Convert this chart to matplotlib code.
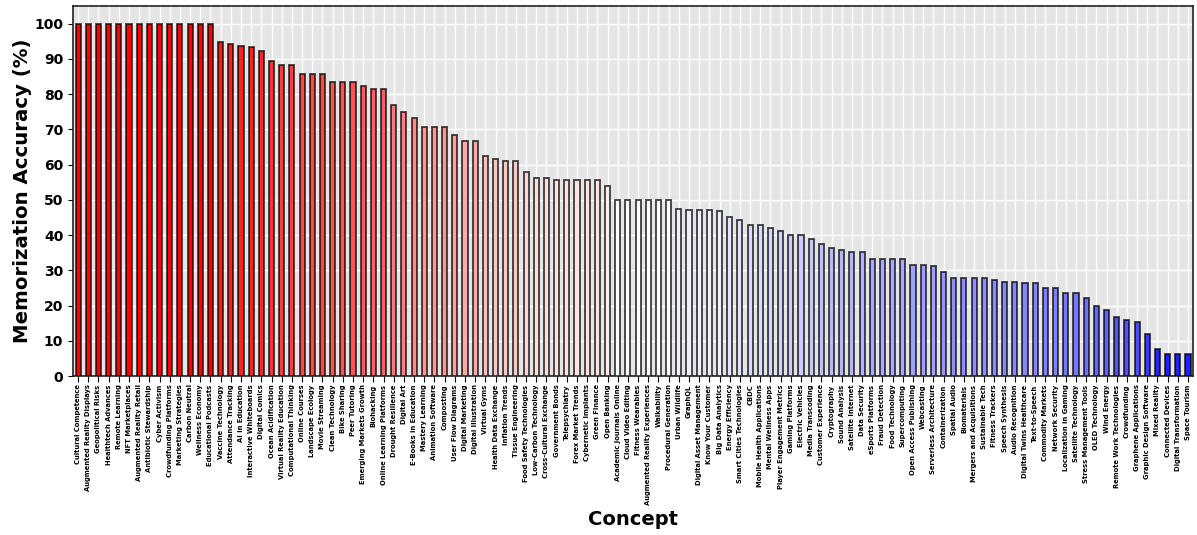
import matplotlib
matplotlib.use("Agg")
import matplotlib.pyplot as plt
import numpy as np

concepts = [
    "Cultural Competence", "Augmented Reality Displays", "Geopolitical Risks", "Healthtech Advances",
    "Remote Learning", "NFT Marketplaces", "Augmented Reality Retail", "Antibiotic Stewardship",
    "Cyber Activism", "Crowdfunding Platforms", "Marketing Strategies", "Carbon Neutral",
    "Wellness Economy", "Educational Podcasts", "Vaccine Technology", "Attendance Tracking",
    "AI in Education", "Interactive Whiteboards", "Digital Comics", "Ocean Acidification",
    "Virtual Reality Education", "Computational Thinking", "Online Courses", "Landscape Ecology",
    "Movie Streaming", "Clean Technology", "Bike Sharing", "Peer Tutoring",
    "Emerging Markets Growth", "Biohacking", "Online Learning Platforms", "Drought Resilience",
    "Digital Art", "E-Books in Education", "Mastery Learning", "Animation Software",
    "Composting", "User Flow Diagrams", "Digital Marketing", "Digital Illustration",
    "Virtual Gyms", "Health Data Exchange", "Inflation Trends", "Tissue Engineering",
    "Food Safety Technologies", "Low-Carbon Technology", "Cross-Cultural Exchange", "Government Bonds",
    "Telepsychiatry", "Forex Market Trends", "Cybernetic Implants", "Green Finance",
    "Open Banking", "Academic Journals Online", "Cloud Video Editing", "Fitness Wearables",
    "Augmented Reality Experiences", "Walkability", "Procedural Generation", "Urban Wildlife",
    "GraphQL", "Digital Asset Management", "Know Your Customer", "Big Data Analytics",
    "Energy Efficiency", "Smart Cities Technologies", "CBDC", "Mobile Health Applications",
    "Mental Wellness Apps", "Player Engagement Metrics", "Gaming Platforms", "Electric Vehicles",
    "Media Transcoding", "Customer Experience", "Cryptography", "Sound Analysis",
    "Satellite Internet", "Data Security", "eSports Platforms", "Fraud Detection",
    "Food Technology", "Supercomputing", "Open Access Publishing", "Webcasting",
    "Serverless Architecture", "Containerization", "Spatial Audio", "Biomaterials",
    "Mergers and Acquisitions", "Sustainable Tech", "Fitness Trackers", "Speech Synthesis",
    "Audio Recognition", "Digital Twins Healthcare", "Text-to-Speech", "Commodity Markets",
    "Network Security", "Localization in Gaming", "Satellite Technology", "Stress Management Tools",
    "OLED Technology", "Wind Energy", "Remote Work Technologies", "Crowdfunding",
    "Graphene Applications", "Graphic Design Software", "Mixed Reality", "Connected Devices",
    "Digital Transformation", "Space Tourism",
]

accuracy = [
    100, 100, 100, 100, 100, 100, 100, 100, 100, 100, 100, 100, 100, 100,
    94.7, 94.1, 93.7, 93.3, 92.3, 89.5, 88.2, 88.2, 85.7, 85.7, 85.7,
    83.3, 83.3, 83.3, 82.4, 81.3, 81.3, 76.9, 75.0, 73.3, 70.6, 70.6, 70.6,
    68.4, 66.7, 66.7, 62.5, 61.5, 61.1, 61.1, 57.9, 56.3, 56.3,
    55.6, 55.6, 55.6, 55.6, 55.6, 53.8, 50, 50, 50, 50, 50, 50,
    47.4, 47.1, 47.1, 47.1, 46.7, 45.0, 44.4, 42.9, 42.9, 42.1, 41.2,
    40.0, 40.0, 38.9, 37.5, 36.4, 35.7, 35.3, 35.3, 33.3, 33.3, 33.3, 33.3,
    31.6, 31.6, 31.3, 29.4, 27.8, 27.8, 27.8, 27.8, 27.3, 26.7, 26.7,
    26.3, 26.3, 25.0, 25.0, 23.5, 23.5, 22.2, 20.0, 18.8, 16.7, 15.8,
    15.4, 11.8, 7.7, 6.3, 6.3, 6.3,
]

plt.style.use("ggplot")
fig = plt.figure(figsize=(11.97, 5.35), dpi=100)
ax = fig.add_axes([0.061, 0.297, 0.9357, 0.692])

cmap = plt.get_cmap("bwr")
colors = [cmap(v / 100.0) for v in accuracy]
x = np.arange(len(concepts))
ax.bar(x, accuracy, width=0.5, color=colors, edgecolor=(0, 0, 0, 0.75), linewidth=1.3, zorder=3)

ax.set_xlim(-0.5, len(concepts) - 0.5)
ax.set_ylim(0, 105)
ax.set_xticks(x)
ax.set_xticklabels(concepts, rotation=90, fontsize=4.9, fontweight="bold", color="black")
ax.set_yticks(np.arange(0, 101, 10))
ax.tick_params(axis="y", labelsize=10, labelcolor="black", colors="black")
ax.tick_params(axis="x", colors="black", length=4, pad=2)
for lab in ax.get_yticklabels():
    lab.set_fontweight("bold")
ax.set_ylabel("Memorization Accuracy (%)", fontsize=14.2, fontweight="bold", color="black", labelpad=2)
ax.set_xlabel("Concept", fontsize=14, fontweight="bold", color="black", labelpad=3)
ax.grid(True, color="white", linewidth=1.0, zorder=0)
ax.set_axisbelow(True)
ax.set_facecolor("#E5E5E5")
for s in ax.spines.values():
    s.set_visible(True)
    s.set_color("#222222")
    s.set_linewidth(1.2)

fig.savefig("out.png", dpi=100, facecolor="white")
